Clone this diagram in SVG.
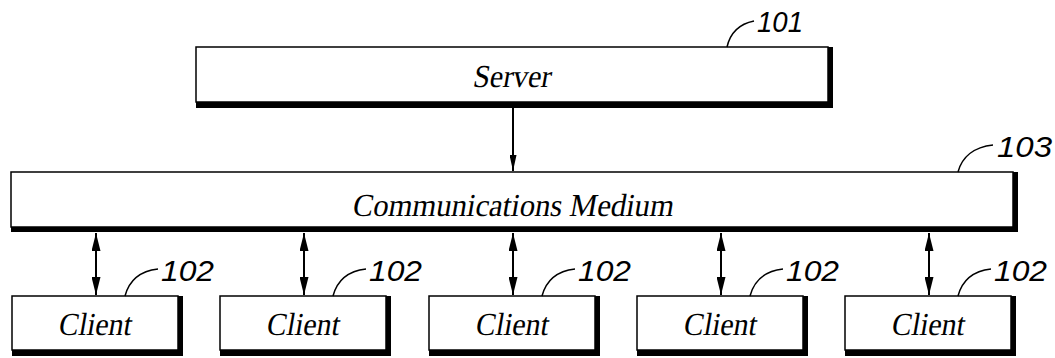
<svg xmlns="http://www.w3.org/2000/svg" width="1055" height="358" viewBox="0 0 1055 358">
<style>
.shadow{fill:#000}
.box{fill:#fff;stroke:#000;stroke-width:1.5}
.lbl{font-family:'Liberation Serif','Times New Roman',serif;font-size:32px;fill:#000;text-anchor:middle}
.ref{font-family:'Liberation Sans',Arial,sans-serif;font-style:italic;font-size:29px;fill:#000}
.lead{fill:none;stroke:#000;stroke-width:1.5}
.conn{stroke:#000;stroke-width:2;fill:none}
</style>
<defs>
<marker id="ah" viewBox="0 0 18 9" refX="18" refY="4.5" markerWidth="18" markerHeight="9" markerUnits="userSpaceOnUse" orient="auto-start-reverse">
<path d="M0,0 L18,4.5 L0,9 Z" fill="#000"/>
</marker>
<marker id="ah2" viewBox="0 0 16 7" refX="16" refY="3.5" markerWidth="16" markerHeight="7" markerUnits="userSpaceOnUse" orient="auto">
<path d="M0,0 L16,3.5 L0,7 Z" fill="#000"/>
</marker>
</defs>
<rect width="1055" height="358" fill="#fff"/>
<g id="connectors">
<line class="conn" x1="513" y1="108" x2="513" y2="171" marker-end="url(#ah2)" stroke-width="1.5"/>
<line class="conn" x1="96" y1="233" x2="96" y2="295" marker-start="url(#ah)" marker-end="url(#ah)"/>
<line class="conn" x1="304" y1="233" x2="304" y2="295" marker-start="url(#ah)" marker-end="url(#ah)"/>
<line class="conn" x1="513" y1="233" x2="513" y2="295" marker-start="url(#ah)" marker-end="url(#ah)"/>
<line class="conn" x1="721" y1="233" x2="721" y2="295" marker-start="url(#ah)" marker-end="url(#ah)"/>
<line class="conn" x1="929" y1="233" x2="929" y2="295" marker-start="url(#ah)" marker-end="url(#ah)"/>
</g>
<g id="server">
<rect class="shadow" x="196" y="47" width="637" height="61"/>
<rect class="box" x="196" y="47" width="632" height="55"/>
<text class="lbl" transform="translate(511 87) skewX(-10)" x="0" y="0" font-size="33" textLength="78" lengthAdjust="spacingAndGlyphs">Server</text>
<path class="lead" d="M727 47 C730 34 739 24 754 21"/>
<text class="ref" x="757" y="32" textLength="46" lengthAdjust="spacingAndGlyphs">101</text>
</g>
<g id="medium">
<rect class="shadow" x="11" y="172" width="1007" height="60"/>
<rect class="box" x="11" y="172" width="1002" height="55"/>
<text class="lbl" transform="translate(512 216) skewX(-10)" x="0" y="0" font-size="38" textLength="321" lengthAdjust="spacingAndGlyphs">Communications Medium</text>
<path class="lead" d="M958 172 C962 157 974 147 993 145"/>
<text class="ref" x="997" y="157" textLength="55" lengthAdjust="spacingAndGlyphs">103</text>
</g>
<g id="client1">
<rect class="shadow" x="12" y="296" width="171" height="60"/>
<rect class="box" x="12" y="296" width="166" height="54"/>
<text class="lbl" transform="translate(94 335) skewX(-10)" x="0" y="0" textLength="73" lengthAdjust="spacingAndGlyphs">Client</text>
<path class="lead" d="M125 296 C129 281 140 271 158 269"/>
<text class="ref" x="161" y="281" textLength="53" lengthAdjust="spacingAndGlyphs">102</text>
</g>
<g id="client2">
<rect class="shadow" x="220" y="296" width="171" height="60"/>
<rect class="box" x="220" y="296" width="166" height="54"/>
<text class="lbl" transform="translate(302 335) skewX(-10)" x="0" y="0" textLength="73" lengthAdjust="spacingAndGlyphs">Client</text>
<path class="lead" d="M333 296 C337 281 348 271 366 269"/>
<text class="ref" x="369" y="281" textLength="53" lengthAdjust="spacingAndGlyphs">102</text>
</g>
<g id="client3">
<rect class="shadow" x="429" y="296" width="171" height="60"/>
<rect class="box" x="429" y="296" width="166" height="54"/>
<text class="lbl" transform="translate(511 335) skewX(-10)" x="0" y="0" textLength="73" lengthAdjust="spacingAndGlyphs">Client</text>
<path class="lead" d="M542 296 C546 281 557 271 575 269"/>
<text class="ref" x="578" y="281" textLength="53" lengthAdjust="spacingAndGlyphs">102</text>
</g>
<g id="client4">
<rect class="shadow" x="637" y="296" width="171" height="60"/>
<rect class="box" x="637" y="296" width="166" height="54"/>
<text class="lbl" transform="translate(719 335) skewX(-10)" x="0" y="0" textLength="73" lengthAdjust="spacingAndGlyphs">Client</text>
<path class="lead" d="M750 296 C754 281 765 271 783 269"/>
<text class="ref" x="786" y="281" textLength="53" lengthAdjust="spacingAndGlyphs">102</text>
</g>
<g id="client5">
<rect class="shadow" x="845" y="296" width="171" height="60"/>
<rect class="box" x="845" y="296" width="166" height="54"/>
<text class="lbl" transform="translate(927 335) skewX(-10)" x="0" y="0" textLength="73" lengthAdjust="spacingAndGlyphs">Client</text>
<path class="lead" d="M958 296 C962 281 973 271 991 269"/>
<text class="ref" x="994" y="281" textLength="53" lengthAdjust="spacingAndGlyphs">102</text>
</g>
</svg>
